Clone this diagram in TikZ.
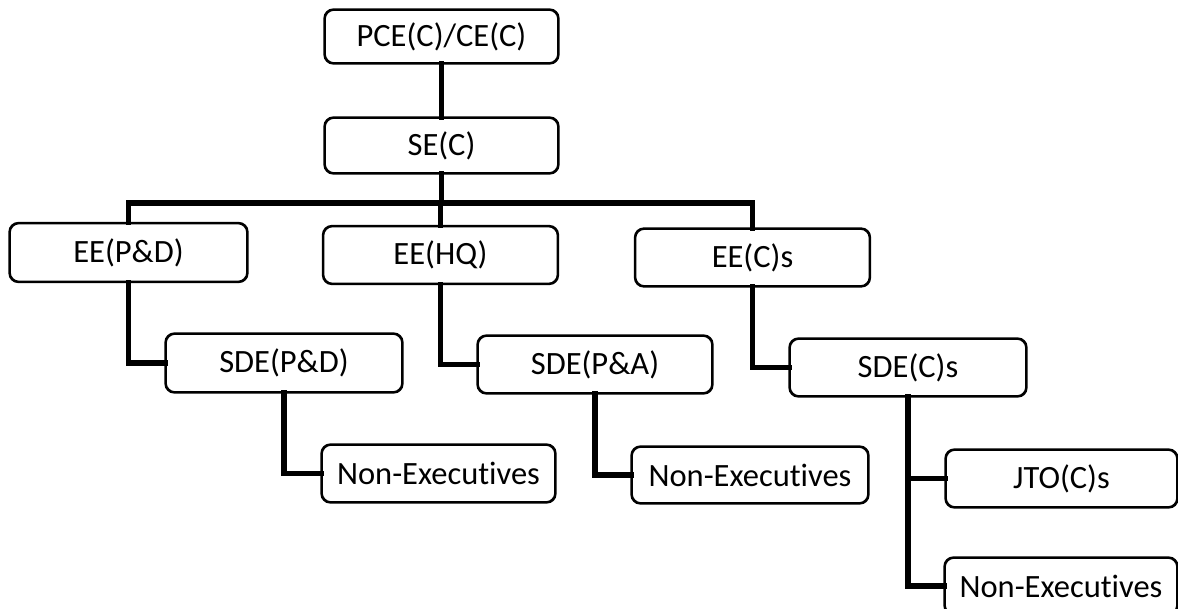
\documentclass[tikz,border=0pt]{standalone}
\usepackage{fontspec}
\setmainfont{Carlito}[Ligatures=NoCommon]
\begin{document}
\begin{tikzpicture}[x=1pt,y=-1pt,
  box/.style={draw=black, line width=1.6pt, rounded corners=9pt, fill=white,
    minimum width=234pt, minimum height=56pt, inner sep=0pt,
    font=\fontsize{32.5}{39}\selectfont},
  conn/.style={draw=black, line width=5.5pt, line join=miter, line cap=rect},
  outline/.style={draw=black, line width=1.6pt, rounded corners=9pt}]
\clip (0,0) rectangle (1178,608);
\fill[white] (0,0) rectangle (1178,608);
\coordinate (bar) at (0,203);
\node[box, minimum width=233pt, minimum height=53pt] (pce) at (441.5,36.5) {PCE(C)/CE(C)};
\node[box, minimum width=233pt, minimum height=55pt] (se) at (441.5,145.5) {SE(C)};
\node[box, minimum width=237pt, minimum height=58pt] (eepd) at (128.5,252.5) {EE(P\&D)};
\node[box, minimum height=57pt] (eehq) at (440.5,255) {EE(HQ)};
\node[box, minimum height=57pt] (eec) at (752.5,257.5) {EE(C)s};
\node[box, minimum width=236pt, minimum height=58pt] (sdepd) at (284,363) {SDE(P\&D)};
\node[box, minimum height=57pt] (sdepa) at (595,364.5) {SDE(P\&A)};
\node[box, minimum width=236pt, minimum height=57pt] (sdec) at (908,367.5) {SDE(C)s};
\node[box, minimum width=233pt, minimum height=57pt] (ne1) at (438.5,473.5) {Non-Executives};
\node[box, minimum width=236pt, minimum height=56pt] (ne2) at (750,475) {Non-Executives};
\node[box, minimum width=231pt, minimum height=57pt] (jto) at (1061.5,478.5) {JTO(C)s};
\node[box, minimum width=232pt, minimum height=56pt] (ne3) at (1061,586) {Non-Executives};
\draw[conn] (pce.south) -- (se.north);
\draw[conn] (se.south) -- (se.south |- bar);
\draw[conn] (eepd.north) -- (eepd.north |- bar) -- (eec.north |- bar) -- (eec.north);
\draw[conn] (eehq.north) -- (eehq.north |- bar);
\draw[conn] (eepd.south) |- (sdepd.west);
\draw[conn] (eehq.south) |- (sdepa.west);
\draw[conn] (eec.south) |- (sdec.west);
\draw[conn] (sdepd.south) |- (ne1.west);
\draw[conn] (sdepa.south) |- (ne2.west);
\draw[conn] (sdec.south) |- (jto.west);
\draw[conn] (sdec.south) |- (ne3.west);
\foreach \n in {pce,se,eepd,eehq,eec,sdepd,sdepa,sdec,ne1,ne2,jto,ne3}{
  \draw[outline] (\n.south west) rectangle (\n.north east);
}
\end{tikzpicture}
\end{document}
